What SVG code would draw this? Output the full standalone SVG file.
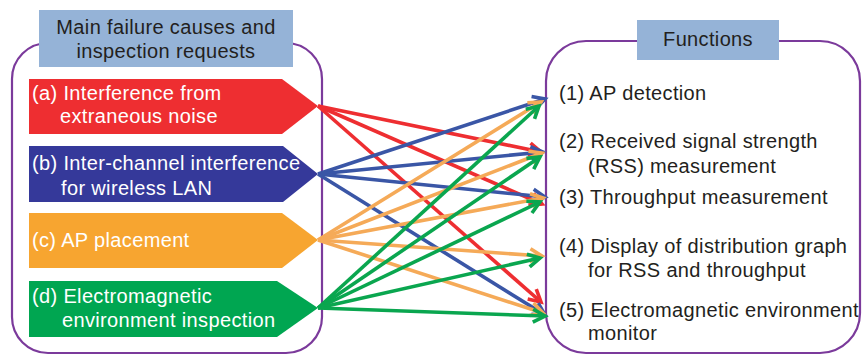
<svg xmlns="http://www.w3.org/2000/svg" width="862" height="355" viewBox="0 0 862 355">
  <style>
    text { font-family: "Liberation Sans", Arial, sans-serif; font-size: 20px; letter-spacing: 0.35px; }
    .dark { fill: #231f20; }
    .white { fill: #ffffff; }
    .frame { fill: none; stroke: #7b3a9b; stroke-width: 2.2; }
    .title { fill: #95b3d7; }
    .ln { fill: none; stroke-width: 3.6; }
    .r { stroke: #ee2e31; marker-end: url(#mr); }
    .b { stroke: #3a56a6; marker-end: url(#mb); }
    .o { stroke: #f5aa58; marker-end: url(#mo); }
    .g { stroke: #0aa64f; marker-end: url(#mg); }
  </style>
  <defs>
    <marker id="mr" viewBox="0 0 13 13" refX="12" refY="6.5" markerWidth="13" markerHeight="13" markerUnits="userSpaceOnUse" orient="auto" overflow="visible"><path d="M0,0 L12,6.5 L0,13" fill="none" stroke="#ee2e31" stroke-width="3.6"/></marker>
    <marker id="mb" viewBox="0 0 13 13" refX="12" refY="6.5" markerWidth="13" markerHeight="13" markerUnits="userSpaceOnUse" orient="auto" overflow="visible"><path d="M0,0 L12,6.5 L0,13" fill="none" stroke="#3a56a6" stroke-width="3.6"/></marker>
    <marker id="mo" viewBox="0 0 13 13" refX="12" refY="6.5" markerWidth="13" markerHeight="13" markerUnits="userSpaceOnUse" orient="auto" overflow="visible"><path d="M0,0 L12,6.5 L0,13" fill="none" stroke="#f5aa58" stroke-width="3.6"/></marker>
    <marker id="mg" viewBox="0 0 13 13" refX="12" refY="6.5" markerWidth="13" markerHeight="13" markerUnits="userSpaceOnUse" orient="auto" overflow="visible"><path d="M0,0 L12,6.5 L0,13" fill="none" stroke="#0aa64f" stroke-width="3.6"/></marker>
  </defs>

  <g id="causes-frame">
    <rect class="frame" x="12" y="43" width="310" height="310" rx="36" ry="36"/>
    <rect class="title" x="39" y="10" width="254" height="57"/>
    <text class="dark" x="166" y="34" text-anchor="middle">Main failure causes and</text>
    <text class="dark" x="166" y="58" text-anchor="middle">inspection requests</text>
  </g>

  <g id="functions-frame">
    <rect class="frame" x="546" y="41" width="314" height="312" rx="40" ry="40"/>
    <rect class="title" x="637" y="20" width="142" height="40"/>
    <text class="dark" x="708" y="46" text-anchor="middle">Functions</text>
  </g>

  <g id="cause-a">
    <polygon points="29,79 282,79 318,106 282,134 29,134" fill="#ee2e31"/>
    <text class="white" x="32" y="100">(a) Interference from</text>
    <text class="white" x="60" y="123">extraneous noise</text>
  </g>
  <g id="cause-b">
    <polygon points="29,146 283,146 318,174 283,202 29,202" fill="#35399a"/>
    <text class="white" x="32" y="170">(b) Inter-channel interference</text>
    <text class="white" x="61" y="195">for wireless LAN</text>
  </g>
  <g id="cause-c">
    <polygon points="29,213 282,213 318,240 282,268 29,268" fill="#f7a530"/>
    <text class="white" x="32" y="247">(c) AP placement</text>
  </g>
  <g id="cause-d">
    <polygon points="29,281 277,281 318,308 277,337 29,337" fill="#00a651"/>
    <text class="white" x="32" y="303">(d) Electromagnetic</text>
    <text class="white" x="62" y="327">environment inspection</text>
  </g>

  <g id="func-1"><text class="dark" x="559" y="100">(1) AP detection</text></g>
  <g id="func-2">
    <text class="dark" x="559" y="148">(2) Received signal strength</text>
    <text class="dark" x="588" y="173">(RSS) measurement</text>
  </g>
  <g id="func-3"><text class="dark" x="559" y="204">(3) Throughput measurement</text></g>
  <g id="func-4">
    <text class="dark" x="559" y="253">(4) Display of distribution graph</text>
    <text class="dark" x="588" y="277">for RSS and throughput</text>
  </g>
  <g id="func-5">
    <text class="dark" x="559" y="317">(5) Electromagnetic environment</text>
    <text class="dark" x="588" y="340">monitor</text>
  </g>

  <g id="connectors">
    <line class="ln r" x1="318" y1="106" x2="541" y2="152"/>
    <line class="ln r" x1="318" y1="106" x2="542" y2="204"/>
    <line class="ln r" x1="318" y1="106" x2="541" y2="302"/>

    <line class="ln b" x1="318" y1="174" x2="545" y2="99"/>
    <line class="ln b" x1="318" y1="174" x2="543" y2="152"/>
    <line class="ln b" x1="318" y1="174" x2="545" y2="197"/>
    <line class="ln b" x1="318" y1="174" x2="545" y2="315"/>

    <line class="ln o" x1="318" y1="240" x2="541" y2="102"/>
    <line class="ln o" x1="318" y1="240" x2="542" y2="153"/>
    <line class="ln o" x1="318" y1="240" x2="543" y2="198"/>
    <line class="ln o" x1="318" y1="240" x2="542" y2="256"/>
    <line class="ln o" x1="318" y1="240" x2="543" y2="313"/>

    <line class="ln g" x1="318" y1="308" x2="539" y2="106"/>
    <line class="ln g" x1="318" y1="308" x2="540" y2="157"/>
    <line class="ln g" x1="318" y1="308" x2="540" y2="202"/>
    <line class="ln g" x1="318" y1="308" x2="540" y2="258"/>
    <line class="ln g" x1="318" y1="308" x2="545" y2="316"/>
  </g>
</svg>
